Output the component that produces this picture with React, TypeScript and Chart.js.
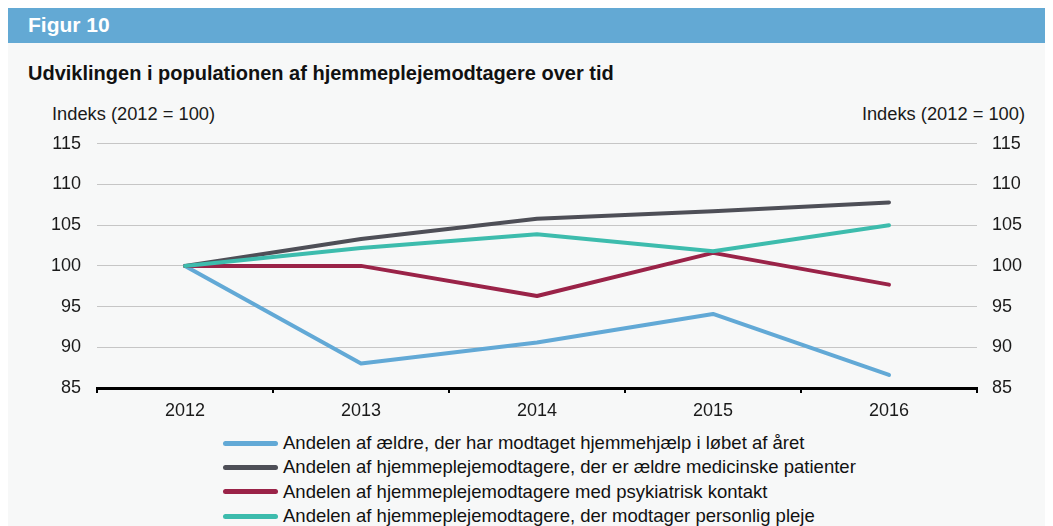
import React, { useEffect, useRef } from "react";
import { Chart, registerables } from "chart.js";

Chart.register(...registerables);

const years = ["2012", "2013", "2014", "2015", "2016"];
const aeldreHjemmehjaelp = [100, 88.0, 90.6, 94.1, 86.6];
const medicinskePatienter = [100, 103.3, 105.8, 106.7, 107.8];
const psykiatriskKontakt = [100, 100, 96.3, 101.6, 97.7];
const personligPleje = [100, 102.2, 103.9, 101.8, 105.0];

const seriesLabels = [
  "Andelen af ældre, der har modtaget hjemmehjælp i løbet af året",
  "Andelen af hjemmeplejemodtagere, der er ældre medicinske patienter",
  "Andelen af hjemmeplejemodtagere med psykiatrisk kontakt",
  "Andelen af hjemmeplejemodtagere, der modtager personlig pleje",
];
const seriesColors = ["#62a9d6", "#4e4f57", "#9a2348", "#3dbcad"];
const seriesData = [aeldreHjemmehjaelp, medicinskePatienter, psykiatriskKontakt, personligPleje];
const seriesOrder = [3, 2, 1, 0];

const FONT = "'Liberation Sans', Arial, Helvetica, sans-serif";

export default function App() {
  const ref = useRef<HTMLCanvasElement | null>(null);

  useEffect(() => {
    if (!ref.current) return;
    const chart = new Chart(ref.current, {
      type: "line",
      data: {
        labels: years,
        datasets: seriesData.map((d, i) => ({
          label: seriesLabels[i],
          data: d,
          borderColor: seriesColors[i],
          backgroundColor: seriesColors[i],
          borderWidth: 4,
          pointRadius: 0,
          borderCapStyle: "round" as const,
          borderJoinStyle: "round" as const,
          tension: 0,
          order: seriesOrder[i],
          yAxisID: "y",
        })),
      },
      options: {
        responsive: false,
        animation: false,
        layout: { padding: 0 },
        plugins: {
          legend: { display: false },
          tooltip: { enabled: false },
          title: { display: false },
        },
        scales: {
          x: {
            type: "category",
            offset: true,
            grid: {
              display: true,
              drawOnChartArea: false,
              drawTicks: true,
              tickLength: 5,
              color: "#000",
              lineWidth: 2,
              offset: true,
            },
            border: { display: true, color: "#000", width: 3 },
            ticks: {
              color: "#1a1a1a",
              font: { family: FONT, size: 18 },
              padding: 7,
              maxRotation: 0,
            },
            afterFit: (s: any) => {
              s.height = 37;
            },
          },
          y: {
            position: "left",
            min: 85,
            max: 115,
            ticks: {
              stepSize: 5,
              color: "#1a1a1a",
              font: { family: FONT, size: 18 },
              padding: 16,
            },
            grid: {
              color: "#c6c6c6",
              lineWidth: 1,
              drawTicks: false,
            },
            border: { display: false },
            afterFit: (s: any) => {
              s.width = 89;
            },
          },
          y2: {
            position: "right",
            min: 85,
            max: 115,
            ticks: {
              stepSize: 5,
              color: "#1a1a1a",
              font: { family: FONT, size: 18 },
              padding: 15,
            },
            grid: { display: false, drawTicks: false },
            border: { display: false },
            afterFit: (s: any) => {
              s.width = 76;
            },
          },
        },
      },
    });
    return () => chart.destroy();
  }, []);

  return (
    <div
      style={{
        position: "relative",
        marginTop: -2,
        width: 1045,
        height: 530,
        fontFamily: FONT,
        overflow: "hidden",
      }}
    >
      <div
        style={{
          position: "absolute",
          left: 0,
          top: 0,
          width: 1045,
          height: 37,
          background: "#63a9d4",
        }}
      />
      <div
        style={{
          position: "absolute",
          left: 0,
          top: 37,
          width: 1045,
          height: 500,
          background: "#f7f8f8",
        }}
      />
      <div
        style={{
          position: "absolute",
          left: 20,
          top: 0,
          height: 37,
          lineHeight: "37px",
          color: "#fff",
          fontWeight: "bold",
          fontSize: 21,
        }}
      >
        Figur 10
      </div>
      <div
        style={{
          position: "absolute",
          left: 20,
          top: 55,
          lineHeight: "24px",
          color: "#111",
          fontWeight: "bold",
          fontSize: 20,
          whiteSpace: "nowrap",
        }}
      >
        Udviklingen i populationen af hjemmeplejemodtagere over tid
      </div>
      <div
        style={{
          position: "absolute",
          left: 44,
          top: 97,
          lineHeight: "22px",
          color: "#1a1a1a",
          fontSize: 18.3,
          whiteSpace: "nowrap",
        }}
      >
        Indeks (2012 = 100)
      </div>
      <div
        style={{
          position: "absolute",
          right: 1045 - 1017,
          top: 97,
          lineHeight: "22px",
          color: "#1a1a1a",
          fontSize: 18.3,
          whiteSpace: "nowrap",
          textAlign: "right",
        }}
      >
        Indeks (2012 = 100)
      </div>
      <canvas
        ref={ref}
        width={1045}
        height={308}
        style={{ position: "absolute", left: 0, top: 111, width: 1045, height: 308 }}
      />
      {seriesLabels.map((lab, i) => (
        <div
          key={lab}
          style={{
            position: "absolute",
            left: 215,
            top: 437 + i * 24.4 - 11,
            height: 22,
            display: "flex",
            alignItems: "center",
            whiteSpace: "nowrap",
          }}
        >
          <span
            style={{
              display: "inline-block",
              width: 55,
              height: 5,
              borderRadius: 3,
              background: seriesColors[i],
              marginRight: 5,
            }}
          />
          <span style={{ fontSize: 18.5, color: "#111", lineHeight: "22px" }}>{lab}</span>
        </div>
      ))}
    </div>
  );
}
